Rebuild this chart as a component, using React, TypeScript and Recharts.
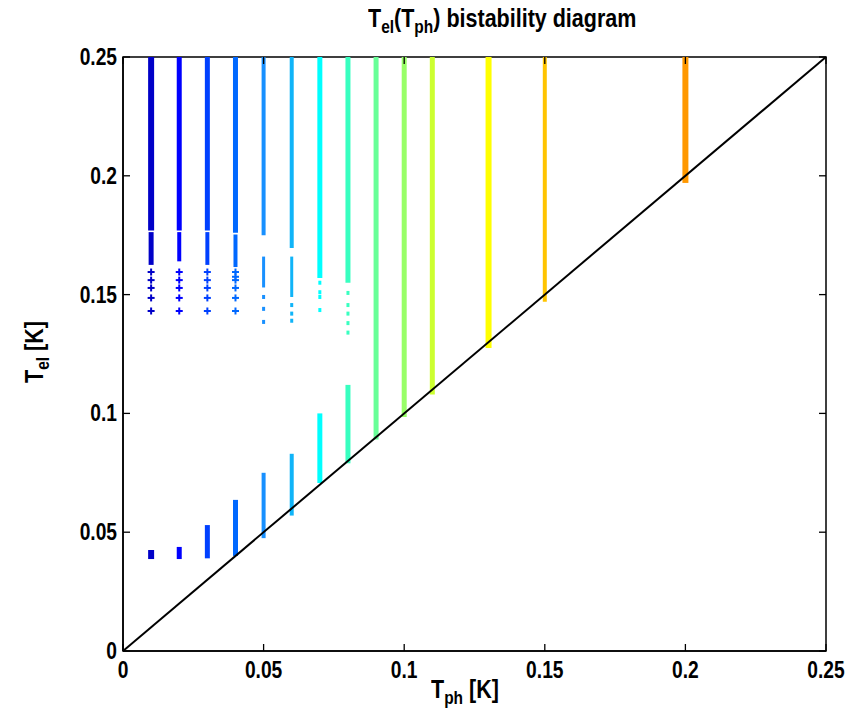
import React from 'react';
import { ComposedChart, Line, Scatter, XAxis, YAxis, ReferenceArea } from 'recharts';

// ---- data ----
const columnX = [0.01, 0.02, 0.03, 0.04, 0.05, 0.06, 0.07, 0.08, 0.09, 0.1, 0.11, 0.13, 0.15, 0.2];
const columnColor = ['#0000c8', '#0000ff', '#0040ff', '#0068ff', '#1890ff', '#10b4f8', '#00ffff', '#38ffc0', '#68ff98', '#98ff68', '#ccff30', '#ffff00', '#ffc400', '#ff9800'];
// upper (high-temperature) branch: solid from upperHigh down to upperLow
const upperHigh = [0.25, 0.25, 0.25, 0.25, 0.25, 0.25, 0.25, 0.25, 0.25, 0.25, 0.25, 0.25, 0.25, 0.25];
const upperLow = [0.177, 0.177, 0.177, 0.176, 0.175, 0.1696, 0.157, 0.155, 0.089, 0.0985, 0.108, 0.1275, 0.147, 0.197];
// dense intermediate band (first six columns)
const midHigh = [0.1763, 0.1763, 0.1763, 0.1753, 0.166, 0.166];
const midLow = [0.1625, 0.164, 0.1625, 0.1616, 0.153, 0.149];
// lower (cold) branch, first eight columns
const lowerHigh = [0.0425, 0.0438, 0.053, 0.0636, 0.075, 0.083, 0.1, 0.112];
const lowerLow = [0.0387, 0.0387, 0.039, 0.04, 0.0475, 0.057, 0.0707, 0.079];
// scattered tail points below the upper branch
const tail001 = [0.1595, 0.1561, 0.1528, 0.1486, 0.1431];
const tail002 = [0.1595, 0.1561, 0.1528, 0.1486, 0.1431];
const tail003 = [0.1595, 0.1561, 0.1528, 0.1486, 0.1431];
const tail004 = [0.1595, 0.1575, 0.1561, 0.1528, 0.1486, 0.1431];
const tail005 = [0.149, 0.144, 0.1385];
const tail006 = [0.1456, 0.142, 0.139];
const tail007 = [0.155, 0.151, 0.149, 0.1435];
const tail008 = [0.1507, 0.1456, 0.142, 0.138, 0.134];
const tails = [tail001, tail002, tail003, tail004, tail005, tail006, tail007, tail008];
const diagonal = [0, 0.25];
const axisTicks = [0, 0.05, 0.1, 0.15, 0.2, 0.25];

// ---- style ----
const columnWidth = [6, 5, 5, 5, 4, 4, 5, 5, 5, 5, 5, 6, 4, 6];
const W = 851;
const H = 716;
const M = { top: 49, right: 33, bottom: 43, left: 55 };
const XH = 30;
const YW = 60;
const PL = M.left + YW;
const PR = W - M.right;
const PT = M.top;
const PB = H - M.bottom - XH;
const FONT = '"Liberation Sans", Arial, sans-serif';
const TICK_FS = 24;
const SX = 0.8;

const XTick = (props: any) => {
  const { x, payload } = props;
  return (
    <g>
      <line x1={x} x2={x} y1={PB} y2={PB - 7} stroke="#000" strokeWidth={1.3} />
      <line x1={x} x2={x} y1={PT} y2={PT + 7} stroke="#000" strokeWidth={1.3} />
      <g transform={`translate(${x},${PB + 27}) scale(${SX},1)`}>
        <text x={0} y={0} textAnchor="middle" fontFamily={FONT} fontWeight="bold" fontSize={TICK_FS} fill="#000">
          {String(payload.value)}
        </text>
      </g>
    </g>
  );
};

const YTick = (props: any) => {
  const { y, payload } = props;
  return (
    <g>
      <line x1={PL} x2={PL + 7} y1={y} y2={y} stroke="#000" strokeWidth={1.3} />
      <line x1={PR} x2={PR - 7} y1={y} y2={y} stroke="#000" strokeWidth={1.3} />
      <g transform={`translate(${PL - 6},${y + 8}) scale(${SX},1)`}>
        <text x={0} y={0} textAnchor="end" fontFamily={FONT} fontWeight="bold" fontSize={TICK_FS} fill="#000">
          {String(payload.value)}
        </text>
      </g>
    </g>
  );
};

const makePlus = (color: string) => (props: any) => {
  const { cx, cy } = props;
  return (
    <g>
      <line x1={cx - 3.5} x2={cx + 3.5} y1={cy} y2={cy} stroke={color} strokeWidth={2} />
      <line x1={cx} x2={cx} y1={cy - 3.5} y2={cy + 3.5} stroke={color} strokeWidth={2} />
    </g>
  );
};
const makeSquare = (color: string) => (props: any) => {
  const { cx, cy } = props;
  return <rect x={cx - 1.5} y={cy - 2} width={3} height={4} fill={color} />;
};

const sub: React.CSSProperties = { fontSize: '0.72em', position: 'relative', top: '0.35em' };

export default function App() {
  return (
    <div style={{ position: 'relative', width: W, height: H, fontFamily: FONT }}>
      <ComposedChart width={W} height={H} margin={M}>
        <XAxis
          type="number"
          dataKey="x"
          domain={[0, 0.25]}
          ticks={axisTicks}
          height={XH}
          axisLine={{ stroke: '#000', strokeWidth: 1.5 }}
          tickLine={false}
          tick={<XTick />}
          allowDataOverflow
        />
        <YAxis
          type="number"
          dataKey="y"
          domain={[0, 0.25]}
          ticks={axisTicks}
          width={YW}
          axisLine={{ stroke: '#000', strokeWidth: 1.5 }}
          tickLine={false}
          tick={<YTick />}
          allowDataOverflow
        />
        <ReferenceArea x1={0} x2={0.25} y1={0} y2={0.25} fill="none" stroke="#000" strokeWidth={1.5} ifOverflow="visible" />
        {columnX.map((x, i) => (
          <Line
            key={'u' + i}
            data={[{ x, y: upperLow[i] }, { x, y: upperHigh[i] }]}
            dataKey="y"
            stroke={columnColor[i]}
            strokeWidth={columnWidth[i]}
            dot={false}
            activeDot={false}
            isAnimationActive={false}
          />
        ))}
        {midHigh.map((h, i) => (
          <Line
            key={'m' + i}
            data={[{ x: columnX[i], y: midLow[i] }, { x: columnX[i], y: h }]}
            dataKey="y"
            stroke={columnColor[i]}
            strokeWidth={columnWidth[i] - 1}
            dot={false}
            activeDot={false}
            isAnimationActive={false}
          />
        ))}
        {lowerHigh.map((h, i) => (
          <Line
            key={'l' + i}
            data={[{ x: columnX[i], y: lowerLow[i] }, { x: columnX[i], y: h }]}
            dataKey="y"
            stroke={columnColor[i]}
            strokeWidth={columnWidth[i]}
            dot={false}
            activeDot={false}
            isAnimationActive={false}
          />
        ))}
        {tails.map((vals, i) => (
          <Scatter
            key={'t' + i}
            data={vals.map((y) => ({ x: columnX[i], y }))}
            fill={columnColor[i]}
            shape={i < 4 ? makePlus(columnColor[i]) : makeSquare(columnColor[i])}
            isAnimationActive={false}
          />
        ))}
        <Line
          data={diagonal.map((v) => ({ x: v, y: v }))}
          dataKey="y"
          stroke="#000"
          strokeWidth={2}
          dot={false}
          activeDot={false}
          isAnimationActive={false}
        />
      </ComposedChart>
      <div
        style={{
          position: 'absolute',
          left: 360,
          top: -4,
          fontSize: 25,
          fontWeight: 'bold',
          whiteSpace: 'nowrap',
          lineHeight: '28px',
          transform: 'scaleX(0.86)',
          transformOrigin: 'left center',
        }}
      >
        T<span style={sub}>el</span>(T<span style={sub}>ph</span>) bistability diagram
      </div>
      <div
        style={{
          position: 'absolute',
          left: 423,
          top: 667,
          fontSize: 25,
          fontWeight: 'bold',
          whiteSpace: 'nowrap',
          lineHeight: '28px',
          transform: 'scaleX(0.86)',
          transformOrigin: 'left center',
        }}
      >
        T<span style={sub}>ph</span> [K]
      </div>
      <div
        style={{
          position: 'absolute',
          left: 27,
          top: 344,
          fontSize: 25,
          fontWeight: 'bold',
          whiteSpace: 'nowrap',
          lineHeight: '28px',
          transform: 'translate(-50%, -50%) rotate(-90deg) scaleX(0.86)',
        }}
      >
        T<span style={sub}>el</span> [K]
      </div>
    </div>
  );
}
